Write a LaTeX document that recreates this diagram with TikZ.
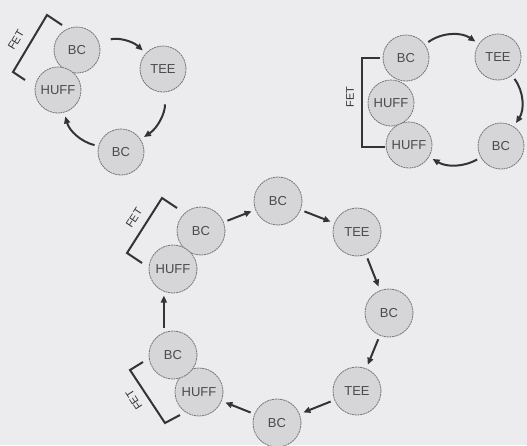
\documentclass[tikz,border=0pt]{standalone}
\usepackage{fontspec}
\setmainfont{Liberation Sans}
\usetikzlibrary{arrows.meta}
\definecolor{paper}{RGB}{236,236,239}
\definecolor{cellfill}{RGB}{214,214,216}
\definecolor{cellrim}{RGB}{118,118,120}
\definecolor{celltext}{RGB}{75,75,78}
\definecolor{ink}{RGB}{52,52,54}
\begin{document}
\begin{tikzpicture}[x=1pt,y=-1pt,
  cell/.style={circle,minimum size=46pt,inner sep=0pt,fill=cellfill,draw=cellrim,
    line width=0.8pt,dash pattern=on 2pt off 0.7pt,
    font=\fontsize{13}{13}\selectfont,text=celltext},
  bigcell/.style={cell,minimum size=48pt},
  flow/.style={draw=ink,line width=2pt,-{Triangle[length=7pt,width=6pt]},
    shorten <=4pt,shorten >=4pt},
  brace/.style={draw=ink,line width=2pt},
  tag/.style={font=\fontsize{11}{11}\selectfont,text=ink,inner sep=0pt}]

% page
\fill[paper] (0,0) rectangle (527,445);
\useasboundingbox (0,0) rectangle (527,445);

% ---- cycle 1 (upper left) ----
\node[cell] (a1) at (77,50)  {BC};
\node[cell] (a2) at (163,69) {TEE};
\node[cell] (a3) at (121,152) {BC};
\node[cell] (a4) at (58,90)  {HUFF};
\draw[flow,shorten <=12pt] (a1) to[bend left=30] (a2);
\draw[flow,shorten <=12pt] (a2) to[bend left=30] (a3);
\draw[flow] (a3) to[bend left=30] (a4);
\draw[brace] (62,25) -- (47,15) -- (13,72) -- (25,80);
\node[tag,rotate=59] (f1) at (16,40) {FET};

% ---- cycle 2 (upper right) ----
\node[cell] (b1) at (406,58)  {BC};
\node[cell] (b2) at (498,57)  {TEE};
\node[cell] (b3) at (501,146) {BC};
\node[cell] (b4) at (391,103) {HUFF};
\node[cell] (b5) at (409,145) {HUFF};
\draw[flow] (b1) to[bend left=35] (b2);
\draw[flow] (b2) to[bend left=35] (b3);
\draw[flow] (b3) to[bend left=30] (b5);
\draw[brace] (380,58) -- (362,58) -- (362,147) -- (385,147);
\node[tag,rotate=90] (f2) at (350,97) {FET};

% ---- cycle 3 (bottom) ----
\node[bigcell] (c1) at (201,231) {BC};
\node[bigcell] (c2) at (278,201) {BC};
\node[bigcell] (c3) at (357,232) {TEE};
\node[bigcell] (c4) at (389,313) {BC};
\node[bigcell] (c5) at (357,391) {TEE};
\node[bigcell] (c6) at (277,423) {BC};
\node[bigcell] (c7) at (199,392) {HUFF};
\node[bigcell] (c8) at (173,355) {BC};
\node[bigcell] (c9) at (173,269) {HUFF};
\draw[flow] (c1) -- (c2);
\draw[flow] (c2) -- (c3);
\draw[flow] (c3) -- (c4);
\draw[flow] (c4) -- (c5);
\draw[flow] (c5) -- (c6);
\draw[flow] (c6) -- (c7);
\draw[flow] (c8.112) -- (c9.248);
\draw[brace] (177,208) -- (162,198) -- (127,253) -- (142,263);
\node[tag,rotate=57] (f3) at (134,218) {FET};
\draw[brace] (143,362) -- (130,370) -- (165,423) -- (180,415);
\node[tag,rotate=123] (f4) at (134,400) {FET};
\end{tikzpicture}
\end{document}
